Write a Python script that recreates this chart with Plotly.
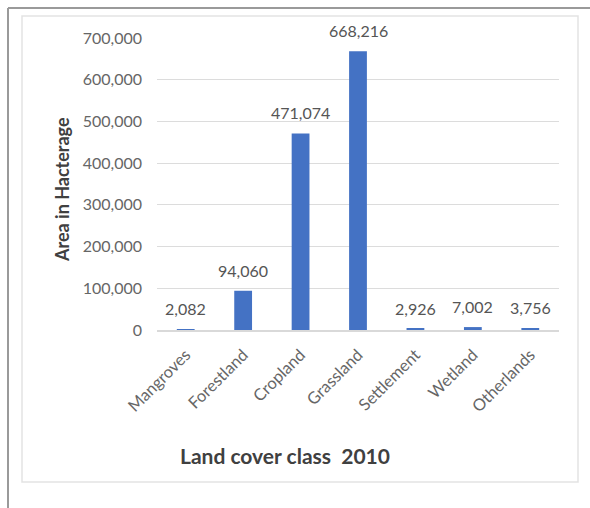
import plotly.graph_objects as go

categories = ["Mangroves", "Forestland", "Cropland", "Grassland", "Settlement", "Wetland", "Otherlands"]
area_ha = [2082, 94060, 471074, 668216, 2926, 7002, 3756]
y_ticks = [0, 100000, 200000, 300000, 400000, 500000, 600000, 700000]

W, H = 590, 508
L, R, T, B = 157, 31, 38, 178
pw, ph = W - L - R, H - T - B

def px(x):
    return (x - L) / pw

def py(y):
    return (H - B - y) / ph

fig = go.Figure(go.Bar(
    x=categories, y=area_ha,
    marker=dict(color="#4472C4", line=dict(width=0)),
    cliponaxis=False,
))

label_annotations = [
    dict(x=c, y=v, xref="x", yref="y", text=f"{v:,}", showarrow=False,
         xanchor="center", yanchor="bottom", yshift=9,
         font=dict(size=16, color="#555555", family="Lato"))
    for c, v in zip(categories, area_ha)
]

fig.update_layout(
    width=W, height=H,
    margin=dict(l=L, r=R, t=T, b=B),
    paper_bgcolor="white", plot_bgcolor="white",
    bargap=0.69, showlegend=False,
    font=dict(family="Lato", color="#666666"),
    xaxis=dict(tickangle=-45, tickfont=dict(size=16.5, color="#666666"),
               showline=True, linecolor="#D9D9D9", linewidth=1.5, ticks="",
               showgrid=False, ticklabelstandoff=7),
    yaxis=dict(range=[0, 700000], tickvals=y_ticks, tickformat=",",
               tickfont=dict(size=16, color="#666666"),
               gridcolor="#DCDCDC", zeroline=False, ticks="",
               ticklabelstandoff=14, automargin=False),
    annotations=label_annotations + [
        dict(text="<b>Area in Hacterage</b>", xref="paper", yref="paper",
             x=px(62), y=py(190), xanchor="center", yanchor="middle",
             textangle=-90, showarrow=False,
             font=dict(size=18, color="#404040", family="Lato")),
        dict(text="<b>Land cover class  2010</b>", xref="paper", yref="paper",
             x=px(285), y=py(455), xanchor="center", yanchor="middle",
             showarrow=False,
             font=dict(size=21, color="#404040", family="Lato")),
    ],
    shapes=[
        dict(type="rect", xref="paper", yref="paper",
             x0=px(22), x1=px(578), y0=py(482), y1=py(16),
             line=dict(color="#E3E3E3", width=1.5), layer="below"),
        dict(type="line", xref="paper", yref="paper",
             x0=px(8), x1=px(8), y0=py(508), y1=py(8),
             line=dict(color="#9A9A9A", width=2)),
        dict(type="line", xref="paper", yref="paper",
             x0=px(8), x1=px(590), y0=py(8), y1=py(8),
             line=dict(color="#9A9A9A", width=2)),
    ],
)

fig.write_html("out.html", config={"displayModeBar": False},
               post_script="document.body.style.margin='0';document.body.style.overflow='hidden';")
